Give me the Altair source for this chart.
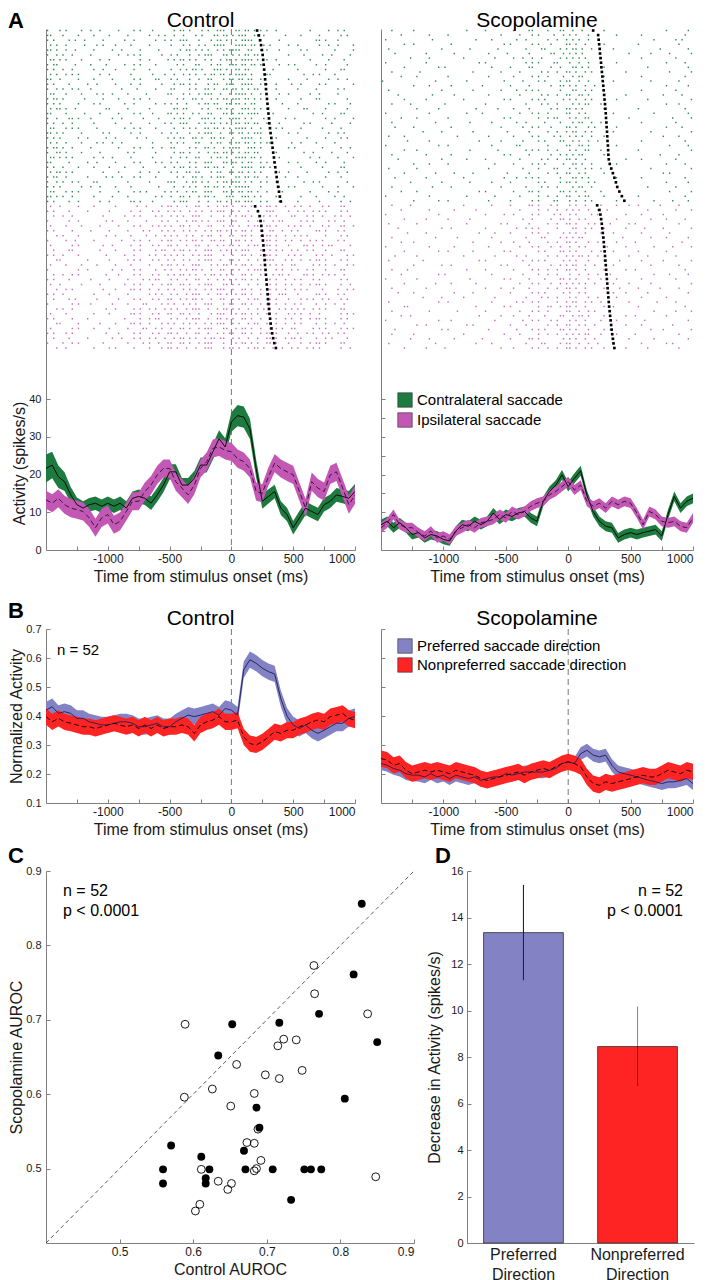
import altair as alt
import pandas as pd

alt.data_transformers.disable_max_rows()

FONT = "Liberation Sans"
AXC = "#808080"
TXT = "#1a1a1a"

# ------------------------------------------------------------------ data
TIME = list(range(-1500, 1001, 50))
TIME_TICKS = list(range(-1250, 1001, 250))

# Panel A: PSTH (spikes/s)
A_CTRL_CONTRA = [21.6, 22.5, 19.4, 18.1, 14.6, 12.0, 11.1, 12.0, 12.4, 11.6, 12.4,
                 11.6, 12.4, 11.1, 13.7, 14.2, 13.7, 12.4, 14.6, 17.2, 20.7,
                 20.7, 17.2, 17.2, 19.0, 22.5, 22.5, 26.0, 29.5, 27.3, 33.9,
                 35.6, 35.2, 32.1, 21.6, 12.9, 14.2, 15.5, 11.1, 9.4, 5.9,
                 8.5, 11.1, 10.2, 9.4, 12.0, 12.9, 14.6, 14.2, 13.7, 15.5]
A_CTRL_CONTRA_SEM = [3.7, 3.5, 3.0, 2.5, 2.1, 1.9, 1.8, 1.8, 1.8, 1.8,
                     1.8, 1.8, 1.8, 1.8, 1.8, 1.8, 1.8, 1.8, 1.8, 1.9,
                     2.0, 2.0, 1.9, 1.9, 1.9, 2.0, 2.0, 2.1, 2.2, 2.3,
                     2.6, 2.8, 2.8, 2.7, 2.4, 2.0, 1.9, 1.8, 1.8, 1.8,
                     1.8, 1.8, 1.8, 1.8, 1.8, 1.8, 1.8, 1.8, 1.8, 1.9, 2.0]
A_CTRL_IPSI = [13.3, 12.4, 13.7, 12.0, 11.1, 10.7, 10.2, 8.5, 5.9, 8.5, 9.4,
               6.7, 7.6, 10.2, 12.9, 12.9, 15.5, 17.2, 19.9, 21.6, 21.6,
               18.1, 16.4, 14.6, 17.2, 21.6, 23.4, 26.9, 27.3, 26.4, 26.0,
               24.2, 23.4, 21.6, 15.5, 15.0, 19.5, 23.0, 21.6, 20.7, 19.9,
               15.5, 11.1, 18.1, 16.4, 15.5, 19.9, 20.7, 16.4, 12.0, 14.6]
A_CTRL_IPSI_SEM = 2.4
A_SCOP_CONTRA = [6.7, 7.6, 5.9, 7.2, 5.9, 4.1, 4.6, 3.2, 4.1, 3.7, 2.8,
                 2.4, 5.0, 6.7, 6.3, 7.6, 6.7, 7.6, 9.8, 8.1, 9.4,
                 8.9, 9.8, 10.2, 8.5, 7.6, 12.9, 15.5, 17.2, 19.9, 16.8,
                 19.0, 21.0, 14.5, 10.2, 7.6, 6.3, 5.9, 3.2, 4.1, 4.6,
                 4.1, 4.6, 5.0, 5.4, 3.7, 9.4, 14.2, 11.1, 12.9, 13.7]
A_SCOP_CONTRA_SEM = 1.3
A_SCOP_IPSI = [5.9, 7.2, 9.4, 6.7, 5.9, 5.9, 4.6, 3.7, 5.0, 3.2, 3.7,
               2.8, 5.0, 5.9, 6.7, 5.9, 7.2, 7.6, 8.1, 9.4, 8.5,
               10.2, 9.4, 10.2, 11.6, 12.4, 12.9, 14.6, 15.5, 16.8, 18.1,
               15.9, 17.2, 12.9, 11.6, 12.4, 11.1, 12.9, 12.0, 12.9, 12.4,
               9.8, 6.7, 10.2, 9.4, 7.6, 7.2, 7.6, 6.3, 5.9, 8.5]
A_SCOP_IPSI_SEM = 1.3

# Panel B: normalized activity
B_CTRL_PREF = [.420, .432, .409, .415, .409, .392, .392, .380, .375, .369, .369,
               .375, .380, .380, .375, .363, .363, .369, .375, .363, .363,
               .380, .392, .403, .398, .403, .409, .415, .403, .426, .420,
               .403, .560, .594, .582, .565, .553, .545, .460, .400, .369,
               .357, .369, .351, .340, .351, .363, .375, .375, .392, .398]
B_CTRL_NONPREF = [.398, .380, .392, .380, .375, .369, .363, .363, .357, .363, .369,
                  .375, .369, .363, .369, .357, .369, .357, .369, .357, .363,
                  .363, .369, .363, .340, .369, .380, .386, .398, .380, .380,
                  .386, .328, .305, .300, .311, .328, .346, .340, .351, .351,
                  .363, .369, .380, .386, .380, .398, .403, .409, .392, .386]
B_SCOP_PREF = [.236, .230, .219, .213, .201, .196, .196, .190, .201, .190, .196,
               .184, .196, .190, .184, .190, .178, .184, .190, .190, .201,
               .196, .201, .207, .207, .207, .207, .213, .219, .236, .242,
               .236, .270, .282, .265, .259, .265, .230, .207, .201, .196,
               .190, .184, .178, .173, .167, .173, .173, .178, .184, .167]
B_SCOP_NONPREF = [.253, .248, .230, .236, .213, .201, .207, .213, .207, .213, .207,
                  .201, .213, .207, .201, .196, .184, .178, .184, .190, .196,
                  .201, .207, .196, .207, .213, .219, .213, .225, .236, .242,
                  .236, .225, .190, .167, .161, .173, .167, .173, .178, .184,
                  .190, .196, .190, .190, .201, .213, .207, .201, .213, .207]
B_CTRL_PREF_SEM = 0.028
B_CTRL_NONPREF_SEM = 0.028
B_SCOP_PREF_SEM = 0.022
B_SCOP_NONPREF_SEM = 0.028

# Panel A rasters: each row = one trial, hex digits -> 25 ms bins from -1500 ms
CTRL_CONTRA_ROWS = [
    "8a124 10a20 5a29c 6d520 04128", "c4210 8204a 48a36 b9a04 20814",
    "a1482 04812 9c45a 5e410 01a20", "5208a 21040 8a53c 7b282 40921",
    "d2410 48208 16a95 e6510 28041", "94820 12a04 a25c6 ad802 10482",
    "6a104 80241 5a94b 5e920 04108", "b0421 04a10 28c59 db412 81204",
    "a4812 20840 95a3a 6c240 40218", "52a04 81022 4a96d 7a180 12840",
    "c8210 40a18 a24c5 b6402 08124", "a1048 21204 5a8b3 9e521 20a01",
    "94a20 08410 c29a6 d5820 41028", "6210a 42081 8a5c9 7a412 04820",
    "b4082 10a40 29a56 ed420 21804", "a8214 04812 a45b3 6b108 40142",
    "5a401 82040 6c29a 9d502 18204", "c2084 10a21 a94c6 b7840 02418",
    "91a20 48108 5a3a9 ea204 80241", "a4810 21042 9c56a 6d910 14082",
    "62a08 04a10 4a9b5 7a428 20410", "d4102 81204 a25c9 b5c02 40128",
    "a8241 20481 59a6c 9e420 08214", "5210a 48020 a8c59 6d581 21040",
    "b4820 10a24 c29a5 e7402 80412", "9a104 02810 5a4b6 ad820 12084",
    "6a812 41020 94c5a 7b410 04821", "c1048 20a14 a29c6 d6502 41208",
    "a4210 84102 5a9b4 9e680 20418", "5a802 10248 a6c59 b5412 08124",
    "b2041 48a10 29a5c 6d904 40210", "94a18 02041 c5a96 ea520 12804",
    "a8124 21008 4a9b5 7c412 80421", "62a04 10a82 a59c6 b6908 04120",
    "d4810 42014 9a5a3 9d420 21048", "a1204 81a20 5c49a 6e510 40812",
]
CTRL_IPSI_ROWS = [
    "48210 20485 a4c96 9a5a4 a4518", "a1040 81229 52a5c a49c2 52a14",
    "24802 04a14 a9c45 5a6a1 8a452", "81201 42085 25a9c c4a58 2a148",
    "42104 10a2a 9a4c5 a59a2 a4519", "a0820 82145 4a95a 5a4c9 41a28",
    "14201 21092 a52c9 9a5a4 a8214", "82410 08a45 95a6c 6a1a5 25428",
    "40a02 41229 a4c95 a59a2 1a582", "21804 20a16 5a9ca 5c4a9 4a218",
    "a4201 04852 a95c4 9a5a2 a1485", "18040 82a29 4a5c9 a49c5 25a14",
    "42108 21045 a9c56 5a4a9 82a45", "80240 48a12 95a4c a5c29 4a218",
    "24a01 10a29 5a96a 9a45a 1a548", "a1020 82158 a4c95 5a9a4 a2814",
    "48104 04a25 9a5c6 a49a5 25a12", "12802 21a49 4a95c 9a5a4 a8425",
    "a4010 82054 a5c9a 5a49c 41a28", "21408 10a29 95a4c a59a2 2a514",
    "80a20 42185 4a9c5 9a5a4 a1248", "14801 20a52 a5c96 a4a95 52a18",
    "42010 81a29 9a45c 5a9a2 a4815", "a0840 04258 a5c9a 9a4a5 25a14",
    "18204 21a45 4a95c a59a4 a1248", "40a10 82194 9a5c6 5a4a9 82a15",
    "a2801 10a29 a4c95 9a5a2 4a528", "21040 48a52 5a96c a49a5 a1284",
    "84a02 02149 9a5c4 5a9a2 25a18", "12010 a0845 a49c5 a5a49 4a812",
]
SCOP_CONTRA_ROWS = [
    "10200 01040 21846 48100 00102", "02010 40002 08a12 a2010 10004",
    "40008 00210 12049 52000 01028", "01200 20001 40a21 a4100 20010",
    "20001 00804 02185 69020 00402", "08020 10020 81032 a8001 02081",
    "00410 02008 24905 54200 10020", "40020 00140 02a18 92010 00104",
    "01002 80010 41824 6a100 04002", "10080 00402 08149 a5002 00081",
    "02100 40020 20a42 58100 10004", "80004 01001 04285 92020 02010",
    "00210 20080 41026 a4800 00102", "20001 00402 12a04 65100 10020",
    "04008 10020 08149 9a002 00208", "01020 02001 40a82 a5010 04001",
    "10400 80040 02148 56200 00110", "00102 00204 21029 a8100 20004",
    "40010 01080 08a41 94020 01002", "02100 40001 40258 a6001 00041",
    "10004 00810 12084 59200 10020", "08200 20002 04a21 a2810 00108",
    "00041 00400 81049 65020 02001", "21000 08020 20a14 a9100 00210",
    "00810 00102 04286 52400 10004", "40002 40010 18041 9a010 00082",
    "01100 00804 02a48 a6200 20001", "10020 20001 41025 58100 00410",
    "04001 01040 08149 a4002 10020", "00210 40008 20a82 69010 00104",
    "20100 00020 04218 a5200 02001", "01004 10400 81049 94100 00280",
    "08020 02001 12a04 6a010 10004", "00401 00810 40285 a2800 00102",
    "10008 20002 02148 59010 04020", "02100 00140 21a06 a4200 00081",
    "40010 01008 08249 96100 20004", "00202 40020 40a18 a5010 01042",
]
SCOP_IPSI_ROWS = [
    "10400 02010 41a28 a4211 20410", "02010 10200 08249 52480 04021",
    "40002 00041 20a14 a1402 10200", "01020 40800 04826 94210 02104",
    "20100 01002 81049 a2841 40010", "04001 20040 12a08 65102 08201",
    "00820 00108 40a42 a4220 10080", "10004 08010 02185 58104 02102",
    "02200 00402 21049 a2410 40008", "40010 10020 08a24 94082 01041",
    "01002 40401 40286 a1220 20100", "08100 02008 12049 5a401 04020",
    "20040 00140 04a82 a2108 10201", "00201 20002 81025 64820 02010",
    "10800 01040 20a49 a4102 40004", "02002 80010 04248 92440 01082",
    "40100 00801 41086 a2210 10020", "01004 20200 08a25 54821 02001",
    "10020 00042 21049 a4108 20410", "04200 10400 40a82 94022 04002",
    "00041 02008 02148 a2410 10100", "20002 40010 14a09 65201 00820",
    "01800 00201 40265 a4120 20004", "10010 08040 08a41 92840 01021",
    "02400 00102 21086 5a102 40100", "40002 20008 04a28 a4210 08002",
    "00120 01400 42049 94802 10040", "08001 40020 10a86 a2140 02201",
    "10200 02001 08249 56210 40010", "00410 10080 41a02 a4801 01002",
    "20004 00210 02185 92420 10140", "01020 80002 20a49 a5102 04010",
]
# saccade onset (ms) per trial, same order as the rows
CTRL_CONTRA_SACC = [208, 222, 232, 240, 247, 253, 257, 261, 265, 269,
                    273, 277, 280, 284, 288, 292, 296, 300, 304, 307,
                    312, 317, 323, 328, 333, 338, 344, 349, 355, 360,
                    366, 372, 378, 385, 392, 400]
CTRL_IPSI_SACC = [192, 215, 228, 236, 242, 247, 251, 255, 259, 262,
                  266, 269, 272, 276, 279, 283, 286, 290, 293, 297,
                  300, 304, 308, 313, 318, 324, 330, 338, 347, 360]
SCOP_CONTRA_SACC = [200, 240, 244, 248, 252, 255, 259, 263, 266, 270,
                    274, 277, 281, 284, 288, 291, 295, 298, 301, 303,
                    306, 308, 311, 313, 315, 318, 320, 322, 325, 333,
                    345, 358, 370, 382, 393, 410, 430, 450]
SCOP_IPSI_SACC = [232, 250, 258, 264, 269, 273, 277, 281, 285, 288,
                  292, 295, 298, 301, 304, 307, 310, 313, 316, 319,
                  322, 325, 328, 332, 336, 340, 344, 348, 353, 358,
                  363, 370]

# Panel C: AUROC scatter
FILLED_X = [0.829, 0.818, 0.771, 0.850, 0.653, 0.717, 0.634, 0.806, 0.686, 0.690,
            0.570, 0.611, 0.669, 0.559, 0.559, 0.622, 0.617, 0.617, 0.671, 0.708,
            0.751, 0.760, 0.774, 0.733]
FILLED_Y = [0.856, 0.761, 0.708, 0.670, 0.694, 0.696, 0.652, 0.594, 0.582, 0.555,
            0.531, 0.516, 0.524, 0.499, 0.480, 0.499, 0.487, 0.480, 0.499, 0.499,
            0.499, 0.499, 0.499, 0.458]
OPEN_X = [0.764, 0.765, 0.837, 0.589, 0.715, 0.723, 0.740, 0.659, 0.698, 0.748,
          0.717, 0.626, 0.588, 0.683, 0.651, 0.688, 0.673, 0.683, 0.692, 0.686,
          0.683, 0.611, 0.634, 0.652, 0.647, 0.609, 0.603, 0.848]
OPEN_Y = [0.773, 0.735, 0.708, 0.694, 0.665, 0.674, 0.673, 0.640, 0.626, 0.632,
          0.621, 0.607, 0.596, 0.601, 0.584, 0.553, 0.535, 0.534, 0.511, 0.500,
          0.497, 0.499, 0.483, 0.480, 0.472, 0.452, 0.443, 0.489]
DIAG = [0.4, 0.9]

# Panel D: bars
CATS = ["Preferred Direction", "Nonpreferred Direction"]
MEANS = [13.35, 8.45]
ERR_LO = [11.3, 6.75]
ERR_HI = [15.4, 10.17]

# ------------------------------------------------------------------ style
GREEN = "#1d7b3f"
MAGENTA = "#c258b4"
R_GREEN = "#2f8a58"
R_MAGENTA = "#c96abd"
BLUE = "#8282c4"
RED = "#ff2424"
NAVY = "#1e1e5a"

W_L, W_R = 309, 312
H_A, H_B = 521, 174
W_C, W_D, H_C = 368, 227, 372
PX_PER_UNIT_A = 151 / 40.0
YMAX_A = H_A / PX_PER_UNIT_A
LEFT = -38


def axis(**kw):
    d = dict(domainColor=AXC, tickColor=AXC, labelColor=TXT, titleColor=TXT,
             labelFont=FONT, titleFont=FONT, labelFontSize=11, titleFontSize=16,
             titleFontWeight="normal", tickSize={"expr": "-4"}, grid=False,
             domainWidth=1, tickWidth=1)
    d.update(kw)
    return alt.Axis(**d)


def time_x():
    return alt.X("t:Q", scale=alt.Scale(domain=[-1500, 1000], nice=False, zero=False),
                 axis=axis(values=TIME_TICKS,
                           labelExpr="datum.value % 500 == 0 ? toString(datum.value) : ''",
                           title="Time from stimulus onset (ms)", labelFontSize=12,
                           labelPadding=7, titlePadding=4))


def txt(s, x, y, size=16, weight="normal", align="left", baseline="alphabetic"):
    return alt.Chart(pd.DataFrame({"label": [s]})).mark_text(
        font=FONT, fontSize=size, fontWeight=weight, align=align, baseline=baseline,
        color="black").encode(text="label:N", x=alt.value(x), y=alt.value(y))


def psth_df(mean, sem, name):
    sems = sem if isinstance(sem, list) else [sem] * len(mean)
    return pd.DataFrame({"t": TIME, "m": mean,
                         "lo": [m - s for m, s in zip(mean, sems)],
                         "hi": [m + s for m, s in zip(mean, sems)],
                         "series": name})


def raster_df(rows, start):
    recs = []
    for i, row in enumerate(rows):
        bits = "".join(format(int(c, 16), "04b") for c in row.replace(" ", ""))
        for b, bit in enumerate(bits):
            if bit == "1":
                recs.append({"t": -1500 + 25 * b + 12.5, "trial": start + i})
    return pd.DataFrame(recs)


def sacc_df(times, start):
    return pd.DataFrame({"t": times, "trial": [start + i for i in range(len(times))]})


def legend_box(y, row_pad):
    return alt.Legend(orient="none", legendX=16, legendY=y, title=None,
                      symbolType="square", symbolSize=210, symbolStrokeColor="#333",
                      symbolStrokeWidth=0.6, symbolOpacity=1, labelFont=FONT,
                      labelFontSize=15, labelColor="black", rowPadding=row_pad,
                      labelOffset=4, padding=0, labelLimit=0)


def panel_a(title, letter, contra, contra_sem, ipsi, ipsi_sem, rows_g, rows_m,
            sacc_g, sacc_m, width, left_axis, zero_line, legend):
    n = len(rows_g) + len(rows_m)
    first, last = 1.5, 319.0
    slope = (last - first) / (n - 1)
    d0 = -first / slope
    d1 = d0 + H_A / slope
    ry = alt.Y("trial:Q", scale=alt.Scale(domain=[d0, d1], reverse=True, nice=False, zero=False),
               axis=None)
    pscale = alt.Scale(domain=[0, YMAX_A], nice=False, zero=False)
    names = ["Contralateral saccade", "Ipsilateral saccade"]
    cscale = alt.Scale(domain=names, range=[GREEN, MAGENTA])
    leg = legend_box(363, 2) if legend else None
    if left_axis:
        yax = axis(values=[0, 10, 20, 30, 40], title="Activity (spikes/s)",
                   labelPadding=9, titlePadding=1, titleY=434)
    else:
        yax = axis(values=[0, 5, 10, 15, 20, 25, 30, 35, 40], labels=False, title=None)

    dg = psth_df(contra, contra_sem, names[0])
    dm = psth_df(ipsi, ipsi_sem, names[1])

    layers = []
    if zero_line:
        layers.append(alt.Chart(pd.DataFrame({"t": [0]})).mark_rule(
            color="#777", strokeDash=[6, 4], strokeWidth=1).encode(x=time_x()))
    layers += [
        alt.Chart(raster_df(rows_g, 0)).mark_tick(orient="vertical", color=R_GREEN,
                                                  thickness=1.4, size=1.5, opacity=1)
        .encode(x=time_x(), y=ry),
        alt.Chart(raster_df(rows_m, len(rows_g))).mark_tick(orient="vertical", color=R_MAGENTA,
                                                            thickness=1.4, size=1.5, opacity=1)
        .encode(x=time_x(), y=ry),
        alt.Chart(sacc_df(sacc_g, 0)).mark_square(color="black", size=7, opacity=1)
        .encode(x=time_x(), y=ry),
        alt.Chart(sacc_df(sacc_m, len(sacc_g))).mark_square(color="black", size=7, opacity=1)
        .encode(x=time_x(), y=ry),
        alt.Chart(dg).mark_area(opacity=1).encode(
            x=time_x(), y=alt.Y("lo:Q", scale=pscale, axis=None), y2="hi:Q",
            color=alt.Color("series:N", scale=cscale, legend=leg)),
        alt.Chart(dm).mark_area(opacity=1).encode(
            x=time_x(), y=alt.Y("lo:Q", scale=pscale, axis=None), y2="hi:Q",
            color=alt.Color("series:N", scale=cscale, legend=leg)),
        alt.Chart(dg).mark_line(color="black", strokeWidth=0.9).encode(
            x=time_x(), y=alt.Y("m:Q", scale=pscale, axis=yax)),
        alt.Chart(dm).mark_line(color="#2a1030", strokeWidth=0.9, strokeDash=[5, 3]).encode(
            x=time_x(), y=alt.Y("m:Q", scale=pscale, axis=None)),
        txt(title, width / 2, -2, size=21, align="center"),
    ]
    if letter:
        layers.append(txt(letter, LEFT, -1, size=22, weight="bold"))
    return (alt.layer(*layers)
            .resolve_scale(y="independent")
            .properties(width=width, height=H_A))


def panel_b(title, letter, pref, pref_sem, non, non_sem, width, left_axis, legend, ntext):
    names = ["Preferred saccade direction", "Nonpreferred saccade direction"]
    cscale = alt.Scale(domain=names, range=[BLUE, RED])
    leg = legend_box(9, 1) if legend else None
    vals = [0.1, 0.2, 0.3, 0.4, 0.5, 0.6, 0.7]
    if left_axis:
        yax = axis(values=vals, title="Normalized Activity", labelPadding=9, titlePadding=1)
    else:
        yax = axis(values=vals, labels=False, title=None)
    ys = alt.Scale(domain=[0.1, 0.7], nice=False, zero=False)
    dp = psth_df(pref, pref_sem, names[0])
    dn = psth_df(non, non_sem, names[1])
    layers = [
        alt.Chart(pd.DataFrame({"t": [0]})).mark_rule(
            color="#777", strokeDash=[6, 4], strokeWidth=1).encode(x=time_x()),
        alt.Chart(dp).mark_area(opacity=1).encode(
            x=time_x(), y=alt.Y("lo:Q", scale=ys, axis=yax), y2="hi:Q",
            color=alt.Color("series:N", scale=cscale, legend=leg)),
        alt.Chart(dn).mark_area(opacity=1).encode(
            x=time_x(), y=alt.Y("lo:Q", scale=ys, axis=yax), y2="hi:Q",
            color=alt.Color("series:N", scale=cscale, legend=leg)),
        alt.Chart(dp).mark_line(color=NAVY, strokeWidth=0.9).encode(
            x=time_x(), y=alt.Y("m:Q", scale=ys, axis=yax)),
        alt.Chart(dn).mark_line(color="black", strokeWidth=0.9, strokeDash=[5, 3]).encode(
            x=time_x(), y=alt.Y("m:Q", scale=ys, axis=yax)),
        txt(title, width / 2, -4, size=21, align="center"),
    ]
    if ntext:
        layers.append(txt("n = 52", 11, 21, size=15, baseline="middle"))
    if letter:
        layers.append(txt(letter, LEFT, -11, size=22, weight="bold"))
    return alt.layer(*layers).properties(width=width, height=H_B)


# ------------------------------------------------------------------ panels
a1 = panel_a("Control", "A", A_CTRL_CONTRA, A_CTRL_CONTRA_SEM, A_CTRL_IPSI, A_CTRL_IPSI_SEM,
             CTRL_CONTRA_ROWS, CTRL_IPSI_ROWS, CTRL_CONTRA_SACC, CTRL_IPSI_SACC,
             W_L, True, True, False)
a2 = panel_a("Scopolamine", None, A_SCOP_CONTRA, A_SCOP_CONTRA_SEM, A_SCOP_IPSI, A_SCOP_IPSI_SEM,
             SCOP_CONTRA_ROWS, SCOP_IPSI_ROWS, SCOP_CONTRA_SACC, SCOP_IPSI_SACC,
             W_R, False, False, True)
b1 = panel_b("Control", "B", B_CTRL_PREF, B_CTRL_PREF_SEM, B_CTRL_NONPREF, B_CTRL_NONPREF_SEM,
             W_L, True, False, True)
b2 = panel_b("Scopolamine", None, B_SCOP_PREF, B_SCOP_PREF_SEM, B_SCOP_NONPREF, B_SCOP_NONPREF_SEM,
             W_R, False, True, False)

# C scatter
auroc_vals = [0.5, 0.6, 0.7, 0.8, 0.9]
cxs = alt.Scale(domain=[0.4, 0.9], nice=False, zero=False)
cys = alt.Scale(domain=[0.4, 0.9], nice=False, zero=False)
cx = alt.X("x:Q", scale=cxs, axis=axis(values=auroc_vals, title="Control AUROC",
                                        labelFontSize=12, labelPadding=7, titlePadding=4))
cy = alt.Y("y:Q", scale=cys, axis=axis(values=auroc_vals, title="Scopolamine AUROC",
                                        labelPadding=9, titlePadding=1))
c = alt.layer(
    alt.Chart(pd.DataFrame({"x": DIAG, "y": DIAG})).mark_line(
        color="#333", strokeDash=[4, 3], strokeWidth=0.8).encode(x=cx, y=cy),
    alt.Chart(pd.DataFrame({"x": OPEN_X, "y": OPEN_Y})).mark_point(
        shape="circle", filled=False, color="black", size=62, strokeWidth=0.9, opacity=1)
    .encode(x=cx, y=cy),
    alt.Chart(pd.DataFrame({"x": FILLED_X, "y": FILLED_Y})).mark_circle(
        color="black", size=62, opacity=1).encode(x=cx, y=cy),
    txt("n = 52", 17, 20, size=16, baseline="middle"),
    txt("p < 0.0001", 17, 40, size=16, baseline="middle"),
    txt("C", LEFT, -8, size=22, weight="bold"),
).properties(width=W_C, height=H_C)

# D bars
dd = pd.DataFrame({"cat": CATS, "mean": MEANS, "lo": ERR_LO, "hi": ERR_HI})
dx = alt.X("cat:N", sort=CATS, scale=alt.Scale(paddingInner=0.3, paddingOuter=0.145),
           axis=axis(labelExpr="split(datum.label, ' ')", labelFontSize=16, labelAngle=0,
                     labelLineHeight=20, ticks=False, tickSize=0, labelPadding=3, title=None))
dys = alt.Scale(domain=[0, 16], nice=False, zero=True)
dy = alt.Y("mean:Q", scale=dys, axis=axis(values=list(range(0, 17, 2)),
                                          title="Decrease in Activity (spikes/s)",
                                          labelPadding=8, titlePadding=8))
d = alt.layer(
    alt.Chart(dd).mark_bar(stroke="#333", strokeWidth=0.8, opacity=1).encode(
        x=dx, y=dy, color=alt.Color("cat:N", scale=alt.Scale(domain=CATS, range=[BLUE, RED]),
                                    legend=None)),
    alt.Chart(dd).transform_filter(alt.datum.cat == CATS[0]).mark_rule(
        color=NAVY, strokeWidth=1.1).encode(x=dx, y=alt.Y("lo:Q", scale=dys), y2="hi:Q"),
    alt.Chart(dd).transform_filter(alt.datum.cat == CATS[1]).mark_rule(
        color="black", opacity=0.45, strokeWidth=1.1).encode(x=dx, y=alt.Y("lo:Q", scale=dys), y2="hi:Q"),
    txt("n = 52", 216, 20, size=16, align="right", baseline="middle"),
    txt("p < 0.0001", 216, 40, size=16, align="right", baseline="middle"),
    txt("D", -32, -8, size=22, weight="bold"),
).properties(width=W_D, height=H_C)

row1 = alt.hconcat(a1, a2, spacing=26, bounds="flush").resolve_scale(color="independent")
row2 = alt.hconcat(b1, b2, spacing=26, bounds="flush").resolve_scale(color="independent")
row3 = alt.hconcat(c, d, spacing=53, bounds="flush").resolve_scale(color="independent")

top = alt.vconcat(row1, row2, spacing=16).resolve_scale(color="independent")
chart = (alt.vconcat(top, row3, spacing=8)
         .resolve_scale(color="independent")
         .properties(padding={"top": 2, "left": 0, "right": 0, "bottom": 0},
                     background="white")
         .configure_view(stroke=None))

chart.save("out.html", embed_options={"renderer": "svg", "actions": False})
